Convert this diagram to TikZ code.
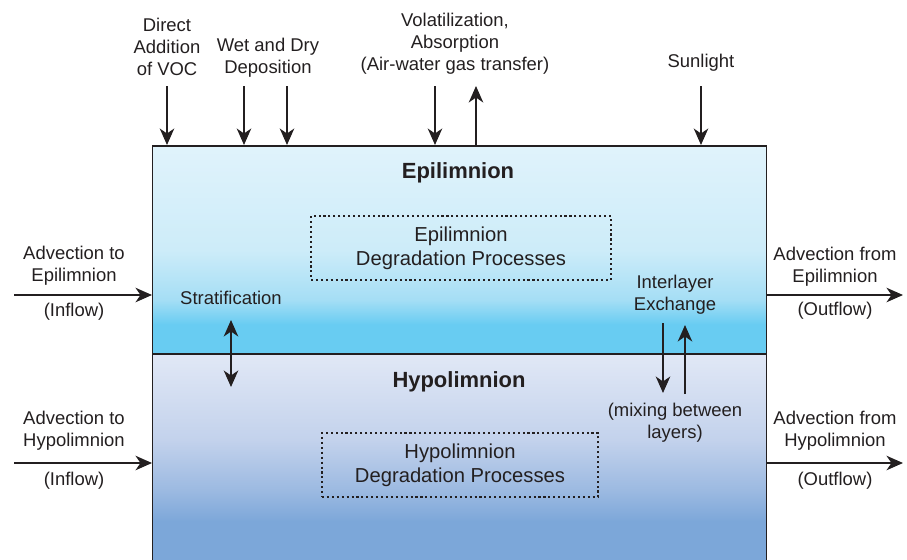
\documentclass[tikz,border=0pt]{standalone}
\usepackage{fontspec}
\setmainfont{Liberation Sans}
\usepackage{tikz}
\usetikzlibrary{arrows.meta}

\definecolor{ink}{RGB}{35,31,32}
\definecolor{epiA}{RGB}{224,243,251}
\definecolor{epiB}{RGB}{205,236,249}
\definecolor{epiC}{RGB}{165,222,245}
\definecolor{epiD}{RGB}{104,204,242}
\definecolor{hypA}{RGB}{225,232,246}
\definecolor{hypB}{RGB}{195,210,236}
\definecolor{hypC}{RGB}{155,185,225}
\definecolor{hypD}{RGB}{124,167,217}

% 25bp = bottom of the layer, 75bp = top
\pgfdeclareverticalshading{epishade}{100bp}{color(0bp)=(epiD); color(25bp)=(epiD); color(32bp)=(epiD);
  color(38bp)=(epiC); color(50bp)=(epiB); color(75bp)=(epiA); color(100bp)=(epiA)}
\pgfdeclareverticalshading{hypshade}{100bp}{color(0bp)=(hypD); color(25bp)=(hypD); color(36bp)=(hypD);
  color(43bp)=(hypC); color(55bp)=(hypB); color(75bp)=(hypA); color(100bp)=(hypA)}

\begin{document}
\begin{tikzpicture}[x=0.02cm, y=-0.02cm,
    lbl/.style={align=center, inner sep=0pt, text=ink, font=\fontsize{10.5}{12.5}\selectfont},
    proc/.style={align=center, inner sep=0pt, text=ink, font=\fontsize{11.5}{13.8}\selectfont,
      draw=ink, line width=0.8pt, dash pattern=on 1.2pt off 1.6pt, minimum height=1.28cm},
    layername/.style={inner sep=0pt, text=ink, font=\bfseries\fontsize{12.5}{15}\selectfont},
    layer/.style={shade, draw=ink, line width=0.85pt, inner sep=0pt, anchor=north west, minimum width=12.28cm},
    flow/.style={draw=ink, line width=0.9pt, -{Stealth[length=0.33cm,width=0.29cm,inset=0.1cm]}},
    twoway/.style={draw=ink, line width=0.9pt,
      {Stealth[length=0.33cm,width=0.29cm,inset=0.1cm]}-{Stealth[length=0.33cm,width=0.29cm,inset=0.1cm]}}]
    \useasboundingbox (0,0) rectangle (907,559);

    % the two layers
    \node[layer, shading=hypshade, minimum height=4.3cm] (hyp) at (152,353) {};
    \node[layer, shading=epishade, minimum height=4.16cm] (epi) at (152,145) {};

    \node[layername] (epiName) at (458,173) {Epilimnion};
    \node[layername] (hypName) at (459,382) {Hypolimnion};

    \node[proc, minimum width=6cm] (epiProc) at (461,248) {Epilimnion\\Degradation Processes};
    \node[proc, minimum width=5.52cm] (hypProc) at (460,465) {Hypolimnion\\Degradation Processes};

    % inputs at the surface
    \node[lbl] (voc) at (167,47) {Direct\\Addition\\of VOC};
    \node[lbl] (dep) at (268,58) {Wet and Dry\\Deposition};
    \node[lbl] (vol) at (455,44) {Volatilization,\\Absorption\\(Air-water gas transfer)};
    \node[lbl] (sun) at (701,63) {Sunlight};

    \coordinate (vocIn) at (167,86);
    \coordinate (wetIn) at (244,86);
    \coordinate (dryIn) at (287,86);
    \coordinate (volIn) at (435,86);
    \coordinate (volOut) at (476,86);
    \coordinate (sunIn) at (701,86);

    \draw[flow] (vocIn) -- (vocIn |- epi.north);
    \draw[flow] (wetIn) -- (wetIn |- epi.north);
    \draw[flow] (dryIn) -- (dryIn |- epi.north);
    \draw[flow] (volIn) -- (volIn |- epi.north);
    \draw[flow] (volOut |- epi.north) -- (volOut);
    \draw[flow] (sunIn) -- (sunIn |- epi.north);

    % advection in and out
    \node[lbl] (advEpiIn) at (74,266) {Advection to\\Epilimnion};
    \node[lbl] (inflowEpi) at (74,312) {(Inflow)};
    \node[lbl] (advHypIn) at (74,431) {Advection to\\Hypolimnion};
    \node[lbl] (inflowHyp) at (74,481) {(Inflow)};

    \node[lbl] (advEpiOut) at (835,267) {Advection from\\Epilimnion};
    \node[lbl] (outflowEpi) at (835,311) {(Outflow)};
    \node[lbl] (advHypOut) at (835,431) {Advection from\\Hypolimnion};
    \node[lbl] (outflowHyp) at (835,481) {(Outflow)};

    \coordinate (inEpi) at (14,295);
    \coordinate (inHyp) at (14,463);
    \coordinate (outEpi) at (903,295);
    \coordinate (outHyp) at (903,463);

    \draw[flow] (inEpi) -- (inEpi -| epi.west);
    \draw[flow] (inHyp) -- (inHyp -| hyp.west);
    \draw[flow] (outEpi -| epi.east) -- (outEpi);
    \draw[flow] (outHyp -| hyp.east) -- (outHyp);

    % exchange between the layers
    \node[lbl] (strat) at (231,298) {Stratification};
    \coordinate (stratTop) at (231,320);
    \coordinate (stratBot) at (231,387);
    \draw[twoway] (stratTop) -- (stratBot);

    \node[lbl] (exch) at (675,295) {Interlayer\\Exchange};
    \node[lbl] (mix) at (675,423) {(mixing between\\layers)};
    \coordinate (mixDownTop) at (663,323);
    \coordinate (mixDownBot) at (663,393);
    \coordinate (mixUpBot) at (685,394);
    \coordinate (mixUpTop) at (685,325);
    \draw[flow] (mixDownTop) -- (mixDownBot);
    \draw[flow] (mixUpBot) -- (mixUpTop);
\end{tikzpicture}
\end{document}
